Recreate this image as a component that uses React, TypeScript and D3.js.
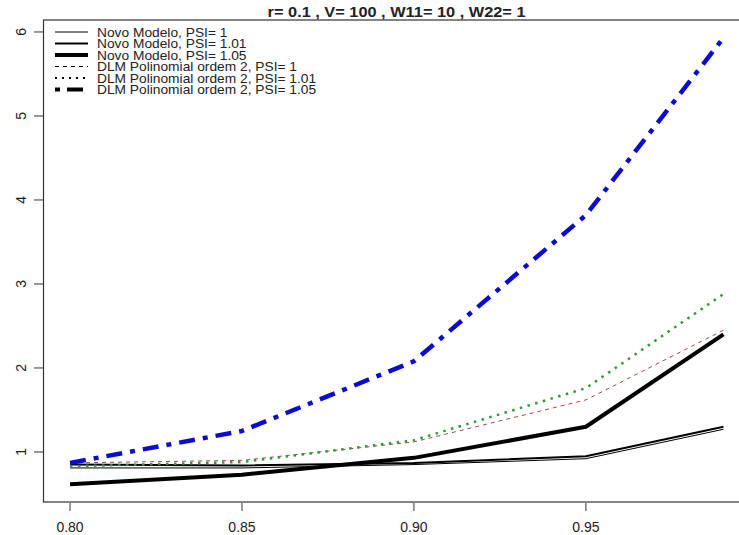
import React from "react";
import * as d3 from "d3";

const xValues = [0.8, 0.85, 0.9, 0.95, 0.99];
const novo1 = [0.81, 0.81, 0.85, 0.92, 1.27];
const novo101 = [0.85, 0.84, 0.87, 0.95, 1.3];
const novo105 = [0.617, 0.73, 0.93, 1.3, 2.4];
const dlm1 = [0.87, 0.9, 1.12, 1.62, 2.45];
const dlm101 = [0.83, 0.88, 1.14, 1.76, 2.88];
const dlm105 = [0.87, 1.25, 2.08, 3.82, 5.93];
const xTicks = [0.8, 0.85, 0.9, 0.95];
const yTicks = [1, 2, 3, 4, 5, 6];
const legendLabels = [
  "Novo Modelo, PSI= 1",
  "Novo Modelo, PSI= 1.01",
  "Novo Modelo, PSI= 1.05",
  "DLM Polinomial ordem 2, PSI= 1",
  "DLM Polinomial ordem 2, PSI= 1.01",
  "DLM Polinomial ordem 2, PSI= 1.05",
];
const title = "r= 0.1 , V= 100 , W11= 10 , W22= 1";

type Style = { color: string; width: number; dash: string; legendWidth: number; legendDash: string };
const styles: Style[] = [
  { color: "#000", width: 1, dash: "", legendWidth: 1, legendDash: "" },
  { color: "#000", width: 2, dash: "", legendWidth: 2, legendDash: "" },
  { color: "#000", width: 4, dash: "", legendWidth: 4, legendDash: "" },
  { color: "#9a4a4a", width: 1, dash: "4 4", legendWidth: 1, legendDash: "4 4" },
  { color: "#2f9a3c", width: 2.5, dash: "2.5 5.5", legendWidth: 2, legendDash: "2 5" },
  { color: "#0a0ad2", width: 4.5, dash: "16 8 5 8", legendWidth: 4, legendDash: "5 7 16 8" },
];
const series = [novo1, novo101, novo105, dlm1, dlm101, dlm105];

export default function App() {
  const W = 739, H = 535;
  const left = 43.5, top = 20, bottom = 502;
  const xPad = (d3.max(xValues)! - d3.min(xValues)!) * 0.04;
  const x = d3.scaleLinear()
    .domain([0.8 - xPad, 0.99 + xPad])
    .range([43.9, 749.6]);
  const all = series.flat();
  const yMin = d3.min(all)!, yMax = d3.max(all)!;
  const yPad = (yMax - yMin) * 0.04;
  const y = d3.scaleLinear().domain([yMin - yPad, yMax + yPad]).range([bottom, top]);
  const line = (vals: number[]) =>
    d3.line<number>().x((_, i) => x(xValues[i])).y((v) => y(v))(vals) || "";
  const right = x.range()[1];
  const font = "'Liberation Sans', Arial, Helvetica, sans-serif";
  return (
    <svg width={W} height={H} style={{ position: "absolute", left: 0, top: 0, background: "#fff" }} fontFamily={font}>
      <rect x={0} y={0} width={W} height={H} fill="#fff" />
      <text x={0} y={0} transform={`translate(${(left + right) / 2},17) scale(1.09,1)`} textAnchor="middle" fontWeight="bold" fontSize={15} fill="#222">
        {title}
      </text>
      <rect x={left} y={top} width={right - left} height={bottom - top} fill="none" stroke="#333" strokeWidth={1.2} />
      {xTicks.map((t) => (
        <g key={t}>
          <line x1={x(t)} x2={x(t)} y1={503} y2={511} stroke="#333" strokeWidth={1} />
          <text x={x(t)} y={532} textAnchor="middle" fontSize={14} fill="#222">{t.toFixed(2)}</text>
        </g>
      ))}
      {yTicks.map((t) => (
        <g key={t}>
          <line x1={34} x2={left} y1={y(t)} y2={y(t)} stroke="#333" strokeWidth={1} />
          <text transform={`translate(26,${y(t)}) rotate(-90)`} textAnchor="middle" fontSize={14} fill="#222">{t}</text>
        </g>
      ))}
      <g>
        {series.map((s, i) => (
          <path key={i} d={line(s)} fill="none" stroke={styles[i].color} strokeWidth={styles[i].width}
            strokeDasharray={styles[i].dash || undefined} strokeLinejoin="round" />
        ))}
      </g>
      <g>
        {legendLabels.map((lab, i) => {
          const ry = 32 + i * 11.5;
          return (
            <g key={lab}>
              <line x1={55} x2={88} y1={ry} y2={ry} stroke="#000" strokeWidth={styles[i].legendWidth}
                strokeDasharray={styles[i].legendDash || undefined} />
              <text transform={`translate(97,${ry + 4.5}) scale(1.06,1)`} fontSize={13} fill="#222">{lab}</text>
            </g>
          );
        })}
      </g>
    </svg>
  );
}
